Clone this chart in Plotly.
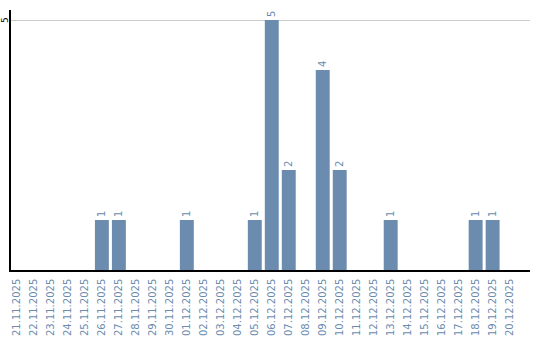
import plotly.graph_objects as go

dates = ["21.11.2025","22.11.2025","23.11.2025","24.11.2025","25.11.2025","26.11.2025",
         "27.11.2025","28.11.2025","29.11.2025","30.11.2025","01.12.2025","02.12.2025",
         "03.12.2025","04.12.2025","05.12.2025","06.12.2025","07.12.2025","08.12.2025",
         "09.12.2025","10.12.2025","11.12.2025","12.12.2025","13.12.2025","14.12.2025",
         "15.12.2025","16.12.2025","17.12.2025","18.12.2025","19.12.2025","20.12.2025"]
counts = [0,0,0,0,0,1,1,0,0,0,1,0,0,0,1,5,2,0,4,2,0,0,1,0,0,0,0,1,1,0]
y_ticks = [5]

xs = list(range(len(dates)))
labels = [str(c) if c > 0 else "" for c in counts]
col = "#6b8cae"

fig = go.Figure(go.Bar(
    x=xs, y=counts, width=0.82, marker=dict(color=col, line=dict(width=0)),
    text=labels, textposition="outside", textangle=-90,
    textfont=dict(family="DejaVu Sans", size=10, color=col),
    cliponaxis=False,
))
for t in y_ticks:
    fig.add_annotation(x=0, xref="paper", y=t, yref="y", text=str(t), showarrow=False,
                       textangle=-90, xanchor="center", yanchor="middle", xshift=-6,
                       font=dict(family="DejaVu Sans", size=9, color="black"))
fig.update_layout(
    width=540, height=340, margin=dict(l=11, r=10, t=10, b=70),
    plot_bgcolor="white", paper_bgcolor="white", showlegend=False,
    font=dict(family="DejaVu Sans", size=10),
    xaxis=dict(range=[-0.35, 30.2], tickmode="array", tickvals=xs, ticktext=dates,
               tickangle=-90, tickfont=dict(size=10, color=col), showgrid=False,
               showline=True, linecolor="black", linewidth=1.5, ticks="", zeroline=False,
               automargin=False, ticklabelstandoff=3),
    yaxis=dict(range=[0, 5.2], tickvals=y_ticks, showticklabels=False,
               showgrid=True, gridcolor="#cccccc",
               showline=True, linecolor="black", linewidth=1.5, ticks="", zeroline=False,
               automargin=False),
)
fig.write_html("out.html")
